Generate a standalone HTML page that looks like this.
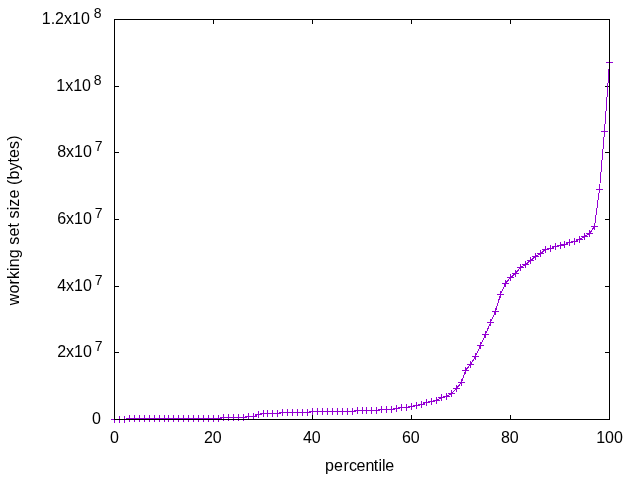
<!DOCTYPE html>
<html><head><meta charset="utf-8"><title>working set size by percentile</title>
<style>
html,body{margin:0;padding:0;background:#fff;}
svg{display:block}
text{font-family:"Liberation Sans",Arial,sans-serif;font-size:16px;fill:#000}
text.s{font-size:14px}
</style></head><body>
<svg width="640" height="480" viewBox="0 0 640 480">
<rect width="640" height="480" fill="#fff"/>
<path shape-rendering="crispEdges" fill="none" stroke="#000" stroke-width="1" d="M114,419.5h5M610,419.5h-5M114,352.5h5M610,352.5h-5M114,286.5h5M610,286.5h-5M114,219.5h5M610,219.5h-5M114,152.5h5M610,152.5h-5M114,86.5h5M610,86.5h-5M114,19.5h5M610,19.5h-5M114.5,420v-5M114.5,19v5M213.5,420v-5M213.5,19v5M312.5,420v-5M312.5,19v5M411.5,420v-5M411.5,19v5M510.5,420v-5M510.5,19v5M609.5,420v-5M609.5,19v5"/>
<g shape-rendering="crispEdges" fill="none" stroke="#9400d3" stroke-width="1">
<polyline points="114.5,419.5 119.5,419.5 124.5,419.5 129.5,418.5 134.5,418.5 139.5,418.5 144.5,418.5 149.5,418.5 154.5,418.5 159.5,418.5 164.5,418.5 168.5,418.5 173.5,418.5 178.5,418.5 183.5,418.5 188.5,418.5 193.5,418.5 198.5,418.5 203.5,418.5 208.5,418.5 213.5,418.5 218.5,418.5 223.5,417.5 228.5,417.5 233.5,417.5 238.5,417.5 243.5,417.5 248.5,416.5 253.5,416.5 258.5,414.5 263.5,413.5 267.5,413.5 272.5,413.5 277.5,413.5 282.5,412.5 287.5,412.5 292.5,412.5 297.5,412.5 302.5,412.5 307.5,412.5 312.5,411.5 317.5,411.5 322.5,411.5 327.5,411.5 332.5,411.5 337.5,411.5 342.5,411.5 347.5,411.5 352.5,411.5 357.5,410.5 362.5,410.5 366.5,410.5 371.5,410.5 376.5,410.5 381.5,409.5 386.5,409.5 391.5,409.5 396.5,408.5 401.5,407.5 406.5,407.5 411.5,406.5 416.5,405.5 421.5,404.5 426.5,402.5 431.5,401.5 436.5,400.5 441.5,397.5 446.5,396.5 451.5,393.5 456.5,388.5 461.5,382.5 465.5,370.5 470.5,364.5 475.5,356.5 480.5,345.5 485.5,334.5 490.5,322.5 495.5,311.5 500.5,294.5 505.5,283.5 510.5,277.5 515.5,273.5 520.5,267.5 525.5,264.5 530.5,260.5 535.5,256.5 540.5,253.5 545.5,249.5 550.5,248.5 555.5,246.5 560.5,245.5 564.5,244.5 569.5,242.5 574.5,241.5 579.5,239.5 584.5,236.5 589.5,233.5 594.5,226.5 599.5,189.5 604.5,131.5 609.5,62.5" stroke-linejoin="round"/>
<path d="M111,419.5h7M114.5,416v7M116,419.5h7M119.5,416v7M121,419.5h7M124.5,416v7M126,418.5h7M129.5,415v7M131,418.5h7M134.5,415v7M136,418.5h7M139.5,415v7M141,418.5h7M144.5,415v7M146,418.5h7M149.5,415v7M151,418.5h7M154.5,415v7M156,418.5h7M159.5,415v7M161,418.5h7M164.5,415v7M165,418.5h7M168.5,415v7M170,418.5h7M173.5,415v7M175,418.5h7M178.5,415v7M180,418.5h7M183.5,415v7M185,418.5h7M188.5,415v7M190,418.5h7M193.5,415v7M195,418.5h7M198.5,415v7M200,418.5h7M203.5,415v7M205,418.5h7M208.5,415v7M210,418.5h7M213.5,415v7M215,418.5h7M218.5,415v7M220,417.5h7M223.5,414v7M225,417.5h7M228.5,414v7M230,417.5h7M233.5,414v7M235,417.5h7M238.5,414v7M240,417.5h7M243.5,414v7M245,416.5h7M248.5,413v7M250,416.5h7M253.5,413v7M255,414.5h7M258.5,411v7M260,413.5h7M263.5,410v7M264,413.5h7M267.5,410v7M269,413.5h7M272.5,410v7M274,413.5h7M277.5,410v7M279,412.5h7M282.5,409v7M284,412.5h7M287.5,409v7M289,412.5h7M292.5,409v7M294,412.5h7M297.5,409v7M299,412.5h7M302.5,409v7M304,412.5h7M307.5,409v7M309,411.5h7M312.5,408v7M314,411.5h7M317.5,408v7M319,411.5h7M322.5,408v7M324,411.5h7M327.5,408v7M329,411.5h7M332.5,408v7M334,411.5h7M337.5,408v7M339,411.5h7M342.5,408v7M344,411.5h7M347.5,408v7M349,411.5h7M352.5,408v7M354,410.5h7M357.5,407v7M359,410.5h7M362.5,407v7M363,410.5h7M366.5,407v7M368,410.5h7M371.5,407v7M373,410.5h7M376.5,407v7M378,409.5h7M381.5,406v7M383,409.5h7M386.5,406v7M388,409.5h7M391.5,406v7M393,408.5h7M396.5,405v7M398,407.5h7M401.5,404v7M403,407.5h7M406.5,404v7M408,406.5h7M411.5,403v7M413,405.5h7M416.5,402v7M418,404.5h7M421.5,401v7M423,402.5h7M426.5,399v7M428,401.5h7M431.5,398v7M433,400.5h7M436.5,397v7M438,397.5h7M441.5,394v7M443,396.5h7M446.5,393v7M448,393.5h7M451.5,390v7M453,388.5h7M456.5,385v7M458,382.5h7M461.5,379v7M462,370.5h7M465.5,367v7M467,364.5h7M470.5,361v7M472,356.5h7M475.5,353v7M477,345.5h7M480.5,342v7M482,334.5h7M485.5,331v7M487,322.5h7M490.5,319v7M492,311.5h7M495.5,308v7M497,294.5h7M500.5,291v7M502,283.5h7M505.5,280v7M507,277.5h7M510.5,274v7M512,273.5h7M515.5,270v7M517,267.5h7M520.5,264v7M522,264.5h7M525.5,261v7M527,260.5h7M530.5,257v7M532,256.5h7M535.5,253v7M537,253.5h7M540.5,250v7M542,249.5h7M545.5,246v7M547,248.5h7M550.5,245v7M552,246.5h7M555.5,243v7M557,245.5h7M560.5,242v7M561,244.5h7M564.5,241v7M566,242.5h7M569.5,239v7M571,241.5h7M574.5,238v7M576,239.5h7M579.5,236v7M581,236.5h7M584.5,233v7M586,233.5h7M589.5,230v7M591,226.5h7M594.5,223v7M596,189.5h7M599.5,186v7M601,131.5h7M604.5,128v7M606,62.5h7M609.5,59v7"/>
</g>
<rect shape-rendering="crispEdges" fill="none" stroke="#000" stroke-width="1" x="114.5" y="19.5" width="495" height="400"/>
<g>
<text x="101" y="424" text-anchor="end">0</text>
<text x="91.9" y="357" text-anchor="end">2x10</text><text x="94.75" y="351.1" class="s">7</text>
<text x="91.9" y="291" text-anchor="end">4x10</text><text x="94.75" y="285.1" class="s">7</text>
<text x="91.9" y="224" text-anchor="end">6x10</text><text x="94.75" y="218.1" class="s">7</text>
<text x="91.9" y="157" text-anchor="end">8x10</text><text x="94.75" y="151.1" class="s">7</text>
<text x="91" y="91" text-anchor="end">1x10</text><text x="93.7" y="85.1" class="s">8</text>
<text x="89.8" y="24" text-anchor="end">1.2x10</text><text x="93.7" y="18.1" class="s">8</text>
<text x="114.5" y="443" text-anchor="middle">0</text>
<text x="212.8" y="443" text-anchor="middle">20</text>
<text x="311.8" y="443" text-anchor="middle">40</text>
<text x="410.8" y="443" text-anchor="middle">60</text>
<text x="509.8" y="443" text-anchor="middle">80</text>
<text x="609.5" y="443" text-anchor="middle">100</text>
<text x="324.91 333.96 343.40 349.12 356.53 365.53 373.72 378.57 382.02 385.37" y="471">percentile</text>
<text transform="translate(18.8,220.25) rotate(-90)" text-anchor="middle" letter-spacing="0.11">working set size (bytes)</text>
</g>
</svg>
</body></html>
